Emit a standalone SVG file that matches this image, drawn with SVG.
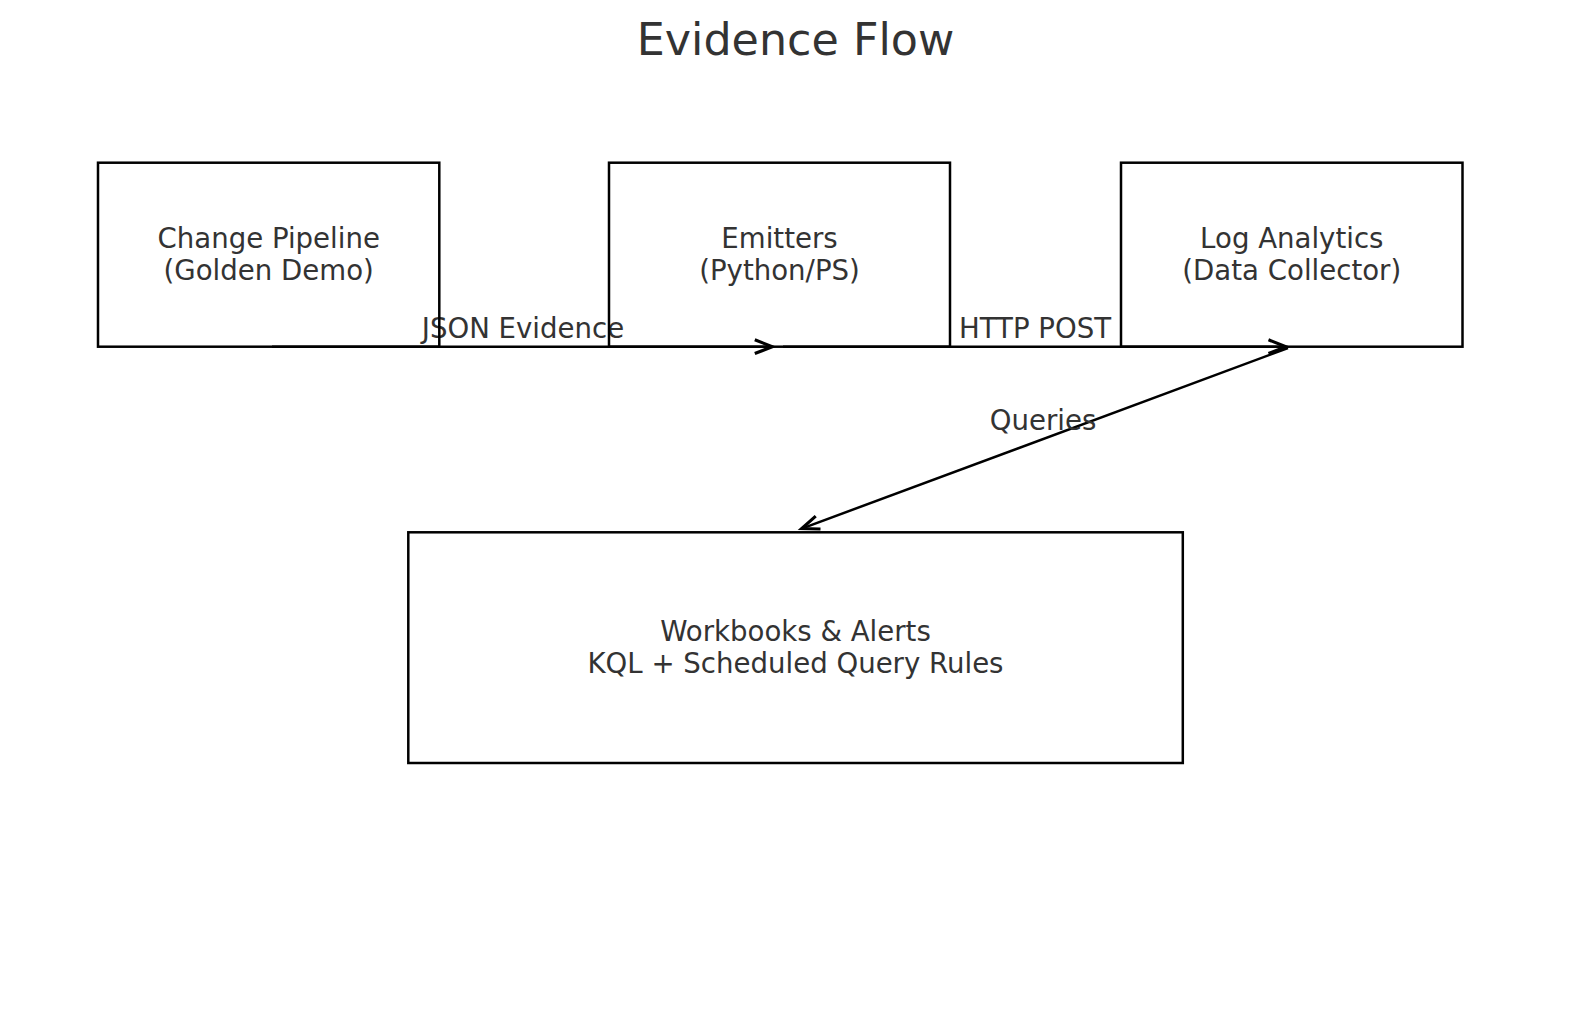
<svg xmlns="http://www.w3.org/2000/svg" width="1589" height="1014" viewBox="0 0 1589 1014">
<style>
.box{fill:none;stroke:#000;stroke-width:2.5}
.t{font-family:"DejaVu Sans",sans-serif;font-size:27.6px;fill:#333;text-anchor:middle}
.title{font-family:"DejaVu Sans",sans-serif;font-size:44.4px;fill:#333;text-anchor:middle}
.edge{fill:none;stroke:#000;stroke-width:2.5}
</style>
<defs>
<marker id="arr" markerUnits="userSpaceOnUse" markerWidth="30" markerHeight="20" viewBox="-16 -8 20 16" refX="0" refY="0" orient="auto">
<path d="M-14,-5.5 L0,0 L-14,5.5" fill="none" stroke="#000" stroke-width="2.5"/>
</marker>
</defs>
<rect width="1589" height="1014" fill="#fff"/>
<text class="title" x="795.5" y="55">Evidence Flow</text>
<g id="connectors">
<line class="edge" x1="272" y1="346.7" x2="772.3" y2="346.7" marker-end="url(#arr)"/>
<line class="edge" x1="783" y1="346.7" x2="1286" y2="346.7" marker-end="url(#arr)"/>
<line class="edge" x1="1288" y1="348.1" x2="801.7" y2="528.6" marker-end="url(#arr)"/>
<text class="t" x="523" y="337.5">JSON Evidence</text>
<text class="t" x="1035" y="337.5">HTTP POST</text>
<text class="t" x="1043" y="430">Queries</text>
</g>
<g id="change-pipeline">
<rect class="box" x="98" y="162.7" width="341.3" height="184"/>
<text class="t" x="268.7" y="247.7">Change Pipeline</text>
<text class="t" x="268.7" y="280">(Golden Demo)</text>
</g>
<g id="emitters">
<rect class="box" x="609" y="162.7" width="341" height="184"/>
<text class="t" x="779.5" y="247.7">Emitters</text>
<text class="t" x="779.5" y="280">(Python/PS)</text>
</g>
<g id="log-analytics">
<rect class="box" x="1121" y="162.7" width="341.5" height="184"/>
<text class="t" x="1291.8" y="247.7">Log Analytics</text>
<text class="t" x="1291.8" y="280">(Data Collector)</text>
</g>
<g id="workbooks">
<rect class="box" x="408.3" y="532.3" width="774.5" height="230.7"/>
<text class="t" x="795.5" y="640.5">Workbooks &amp; Alerts</text>
<text class="t" x="795.5" y="673">KQL + Scheduled Query Rules</text>
</g>
</svg>
